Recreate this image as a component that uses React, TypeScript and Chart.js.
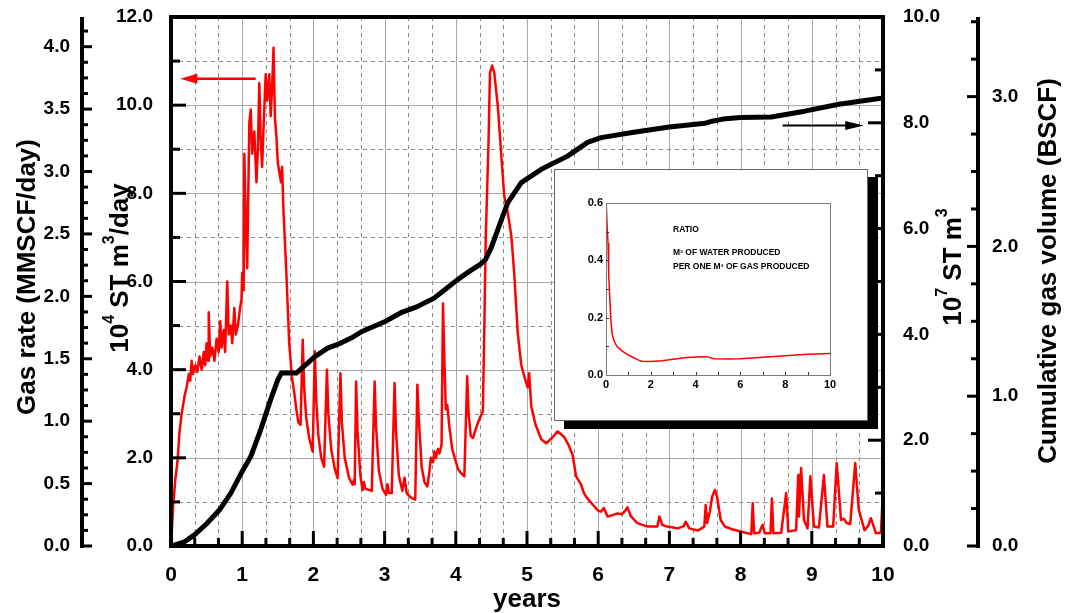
import React, { useEffect, useRef } from 'react';
import { Chart, registerables } from 'chart.js';
Chart.register(...registerables);

const FONT = "'Liberation Sans', Arial, Helvetica, sans-serif";
const K = 2.8316847; // 1 MMSCF = 2.83 x10^4 m3 ; 1 BSCF = 2.83 x10^7 m3

// ---------- main chart data ----------
const gasYears = [
  0, 0.03, 0.06, 0.09, 0.12, 0.15, 0.19, 0.22, 0.25, 0.27,
  0.29, 0.31, 0.34, 0.37, 0.40, 0.43, 0.46, 0.48, 0.50, 0.52,
  0.53, 0.55, 0.58, 0.61, 0.64, 0.67, 0.69, 0.71, 0.74, 0.76,
  0.79, 0.81, 0.84, 0.86, 0.89, 0.91, 0.94, 0.97, 0.99, 1.00,
  1.02, 1.03, 1.05, 1.07, 1.10, 1.12, 1.14, 1.17, 1.20, 1.22,
  1.24, 1.26, 1.28, 1.30, 1.33, 1.35, 1.38, 1.40, 1.42, 1.44,
  1.46, 1.48, 1.50, 1.53, 1.545, 1.56, 1.58, 1.62, 1.66, 1.70,
  1.73, 1.76, 1.79, 1.82, 1.85, 1.87, 1.90, 1.94, 1.99, 2.02,
  2.04, 2.07, 2.11, 2.15, 2.19, 2.21, 2.25, 2.30, 2.34, 2.38,
  2.40, 2.44, 2.50, 2.55, 2.57, 2.58, 2.60, 2.62, 2.66, 2.69,
  2.71, 2.73, 2.77, 2.82, 2.86, 2.88, 2.92, 2.97, 3.02, 3.04,
  3.06, 3.10, 3.14, 3.16, 3.20, 3.25, 3.28, 3.31, 3.37, 3.43,
  3.46, 3.48, 3.52, 3.56, 3.60, 3.63, 3.65, 3.68, 3.70, 3.72,
  3.75, 3.77, 3.80, 3.82, 3.84, 3.86, 3.88, 3.91, 3.95, 3.98,
  4.03, 4.07, 4.12, 4.16, 4.18, 4.21, 4.24, 4.28, 4.31, 4.35,
  4.38, 4.40, 4.42, 4.46, 4.48, 4.51, 4.54, 4.59, 4.63, 4.68,
  4.73, 4.78, 4.82, 4.87, 4.92, 4.97, 5.01, 5.03, 5.06, 5.12,
  5.20, 5.27, 5.35, 5.43, 5.52, 5.58, 5.64, 5.69, 5.72, 5.76,
  5.80, 5.83, 5.89, 5.95, 6.00, 6.04, 6.08, 6.13, 6.20, 6.27,
  6.33, 6.38, 6.41, 6.46, 6.55, 6.62, 6.70, 6.83, 6.86, 6.90,
  6.97, 7.05, 7.12, 7.20, 7.23, 7.28, 7.40, 7.49, 7.51, 7.53,
  7.57, 7.60, 7.64, 7.67, 7.72, 7.78, 7.88, 8.00, 8.15, 8.17,
  8.19, 8.26, 8.31, 8.34, 8.42, 8.44, 8.46, 8.57, 8.64, 8.67,
  8.78, 8.81, 8.82, 8.85, 8.89, 8.94, 8.98, 9.03, 9.10, 9.17,
  9.22, 9.30, 9.35, 9.41, 9.45, 9.49, 9.54, 9.61, 9.66, 9.74,
  9.79, 9.83, 9.90, 9.97, 9.99,
];
// gas rate, 10^4 ST m3/day
const gasRate = [
  0, 0.9, 1.5, 1.9, 2.6, 3.0, 3.4, 3.6, 3.9, 3.75,
  4.2, 3.9, 4.1, 3.95, 4.3, 4.0, 4.4, 4.1, 4.6, 4.2,
  5.3, 4.3, 4.5, 4.2, 4.7, 4.4, 5.1, 4.5, 4.9, 4.4,
  6.0, 4.8, 5.0, 4.6, 5.4, 4.8, 5.0, 5.4, 5.6, 6.2,
  5.8, 8.9, 7.4, 6.3, 9.6, 9.9, 8.9, 9.4, 8.25, 9.0,
  10.5, 9.2, 8.6, 9.5, 10.7, 10.1, 10.7, 9.75, 10.4, 11.3,
  9.7, 9.3, 8.7, 8.4, 8.25, 8.6, 7.6, 6.2, 4.6, 3.8,
  3.5, 3.1, 2.8, 2.75, 4.68, 3.6, 2.9, 2.45, 2.14, 4.42,
  3.3, 2.5, 2.0, 1.8, 4.0, 3.0, 2.2, 1.75, 1.54, 3.92,
  2.8, 2.0, 1.55, 1.39, 1.5, 1.4, 3.73, 2.6, 1.6, 1.27,
  1.45, 1.3, 1.28, 1.25, 3.73, 2.7, 1.7, 1.3, 1.16, 1.4,
  1.2, 1.2, 3.7, 2.6, 1.6, 1.25, 1.55, 1.2, 1.1, 1.05,
  3.66, 2.9, 1.8, 1.45, 1.35, 1.7, 2.0, 1.9, 2.15, 2.0,
  2.2, 2.1, 2.3, 5.5, 4.2, 3.1, 3.2, 2.7, 2.2, 2.03,
  1.75, 1.66, 1.58, 3.85, 3.0, 2.5, 2.45, 2.65, 2.79, 2.95,
  3.05, 4.9, 6.95, 9.2, 10.74, 10.9, 10.74, 9.98, 9.07, 7.94,
  7.56, 7.03, 6.2, 4.83, 4.1, 3.8, 3.6, 3.92, 3.17, 2.75,
  2.42, 2.33, 2.45, 2.6, 2.48, 2.3, 2.07, 1.58, 1.5, 1.39,
  1.2, 1.12, 1.0, 0.89, 0.8, 0.78, 0.86, 0.67, 0.7, 0.74,
  0.72, 0.8, 0.88, 0.67, 0.52, 0.48, 0.44, 0.44, 0.67, 0.48,
  0.44, 0.42, 0.4, 0.45, 0.55, 0.4, 0.35, 0.44, 0.93, 0.52,
  0.8, 1.12, 1.27, 1.12, 0.59, 0.44, 0.38, 0.33, 0.27, 0.97,
  0.29, 0.3, 0.48, 0.29, 0.29, 1.08, 0.29, 0.3, 1.2, 0.33,
  0.36, 1.61, 0.67, 1.77, 0.59, 0.4, 1.58, 0.44, 0.42, 1.61,
  0.44, 0.44, 1.88, 0.59, 0.62, 0.52, 0.5, 1.88, 0.82, 0.36,
  0.45, 0.63, 0.29, 0.3, 0.93,
];

const cumYears = [
  0, 0.19, 0.33, 0.5, 0.68, 0.84, 1.0, 1.12, 1.26, 1.4,
  1.5, 1.55, 1.76, 1.87, 2.02, 2.2, 2.34, 2.53, 2.69, 3.0,
  3.23, 3.45, 3.7, 3.85, 4.03, 4.2, 4.35, 4.42, 4.5, 4.59,
  4.73, 4.92, 5.2, 5.57, 5.85, 6.04, 6.5, 7.0, 7.5, 7.6,
  7.75, 8.0, 8.43, 8.9, 9.38, 10.0,
];
// cumulative gas, 10^7 ST m3
const cumVolume = [
  0, 0.08, 0.21, 0.42, 0.68, 1.0, 1.41, 1.69, 2.2, 2.77,
  3.14, 3.27, 3.27, 3.4, 3.58, 3.74, 3.81, 3.93, 4.06, 4.24,
  4.41, 4.52, 4.69, 4.85, 5.04, 5.2, 5.33, 5.42, 5.65, 5.98,
  6.49, 6.87, 7.12, 7.37, 7.63, 7.72, 7.82, 7.92, 7.99, 8.03,
  8.07, 8.1, 8.11, 8.22, 8.35, 8.47,
];

const yearTicks = [0, 1, 2, 3, 4, 5, 6, 7, 8, 9, 10];
const rateTicks = [0, 2, 4, 6, 8, 10, 12];
const mmscfTicks = [0, 0.5, 1, 1.5, 2, 2.5, 3, 3.5, 4];
const cumTicks = [0, 2, 4, 6, 8, 10];
const bscfTicks = [0, 1, 2, 3];

// ---------- inset data ----------
const ratioYears = [0, 0.01, 0.05, 0.09, 0.12, 0.16, 0.21, 0.27, 0.35, 0.49, 0.7, 0.93, 1.2, 1.45, 1.6, 2.0, 2.5, 3.0, 3.5, 4.0, 4.5, 4.8, 5.5, 6.0, 7.0, 8.0, 9.0, 10.0];
const ratioValues = [0.1, 0.6, 0.52, 0.46, 0.35, 0.285, 0.2, 0.145, 0.12, 0.099, 0.085, 0.073, 0.062, 0.052, 0.048, 0.047, 0.05, 0.055, 0.06, 0.063, 0.064, 0.057, 0.056, 0.057, 0.062, 0.067, 0.072, 0.075];
const insetXTicks = [0, 2, 4, 6, 8, 10];
const insetYTicks = [0, 0.2, 0.4, 0.6];
const insetText = ['RATIO', 'M³ OF WATER PRODUCED', 'PER ONE M³ OF GAS PRODUCED'];

type Part = { t: string; sup?: boolean };

function drawRich(ctx: CanvasRenderingContext2D, parts: Part[], cx: number, cy: number, size: number) {
  ctx.save();
  ctx.translate(cx, cy);
  ctx.rotate(-Math.PI / 2);
  const main = `bold ${size}px ${FONT}`;
  const sup = `bold ${Math.round(size * 0.6)}px ${FONT}`;
  let total = 0;
  for (const p of parts) { ctx.font = p.sup ? sup : main; total += ctx.measureText(p.t).width; }
  let x = -total / 2;
  ctx.textBaseline = 'middle';
  ctx.textAlign = 'left';
  ctx.fillStyle = '#000';
  for (const p of parts) {
    ctx.font = p.sup ? sup : main;
    ctx.fillText(p.t, x, p.sup ? -size * 0.42 : 0);
    x += ctx.measureText(p.t).width;
  }
  ctx.restore();
}

function line(ctx: CanvasRenderingContext2D, x1: number, y1: number, x2: number, y2: number) {
  ctx.beginPath(); ctx.moveTo(x1, y1); ctx.lineTo(x2, y2); ctx.stroke();
}

const mainDecor = {
  id: 'mainDecor',
  beforeDatasetsDraw(chart: any) {
    const { ctx, chartArea: a, scales } = chart;
    const x = scales.x, y = scales.yRate;
    ctx.save();
    ctx.lineWidth = 1;
    for (let k = 1; k < 30; k++) {
      const px = Math.round(x.getPixelForValue(k / 3)) + 0.5;
      if (k % 3 === 0) { ctx.strokeStyle = '#a8a8a8'; ctx.setLineDash([]); }
      else { ctx.strokeStyle = '#8a8a8a'; ctx.setLineDash([4, 4]); }
      line(ctx, px, a.top, px, a.bottom);
    }
    for (let v = 1; v < 12; v++) {
      const py = Math.round(y.getPixelForValue(v)) + 0.5;
      if (v % 2 === 0) { ctx.strokeStyle = '#a8a8a8'; ctx.setLineDash([]); }
      else { ctx.strokeStyle = '#8a8a8a'; ctx.setLineDash([4, 4]); }
      line(ctx, a.left, py, a.right, py);
    }
    ctx.restore();
  },
  afterDraw(chart: any) {
    const { ctx, chartArea: a, scales } = chart;
    const x = scales.x, yR = scales.yRate, yG = scales.yGas, yC = scales.yCum, yB = scales.yBscf;
    ctx.save();
    ctx.setLineDash([]);
    ctx.strokeStyle = '#000';
    ctx.lineCap = 'butt';
    // frame + outer axis lines
    ctx.lineWidth = 4;
    ctx.strokeRect(a.left, a.top, a.right - a.left, a.bottom - a.top);
    const gx = yG.right, bx = yB.left;
    line(ctx, gx, a.top, gx, a.bottom + 2);
    line(ctx, bx, a.top, bx, a.bottom + 2);
    // ticks
    ctx.lineWidth = 3;
    for (let k = 1; k < 30; k++) {
      const px = x.getPixelForValue(k / 3);
      line(ctx, px, a.bottom, px, a.bottom - (k % 3 === 0 ? 15 : 8));
    }
    for (let v = 1; v < 12; v++) {
      const py = yR.getPixelForValue(v);
      line(ctx, a.left, py, a.left + (v % 2 === 0 ? 15 : 9), py);
    }
    for (let v = 1; v < 10; v++) {
      const py = yC.getPixelForValue(v);
      line(ctx, a.right, py, a.right - (v % 2 === 0 ? 15 : 8), py);
    }
    for (let k = 0; k * 0.125 < yG.max; k++) {
      const py = yG.getPixelForValue(k * 0.125);
      line(ctx, gx, py, gx + (k % 4 === 0 ? 10 : 6), py);
    }
    for (let k = 0; k * 0.25 < yB.max; k++) {
      const py = yB.getPixelForValue(k * 0.25);
      line(ctx, bx, py, bx - (k % 4 === 0 ? 11 : 7), py);
    }
    // axis titles
    drawRich(ctx, [{ t: 'Gas rate (MMSCF/day)' }], 28, 277, 26);
    drawRich(ctx, [{ t: '10' }, { t: '4', sup: true }, { t: ' ST m' }, { t: '3', sup: true }, { t: '/day' }], 121, 268, 26);
    drawRich(ctx, [{ t: '10' }, { t: '7', sup: true }, { t: ' ST m' }, { t: '3', sup: true }], 954, 267, 26);
    drawRich(ctx, [{ t: 'Cumulative gas volume (BSCF)' }], 1049, 271, 26);
    // arrows
    const ay = yR.getPixelForValue(10.6);
    ctx.strokeStyle = '#ff0000'; ctx.fillStyle = '#ff0000'; ctx.lineWidth = 2.5;
    line(ctx, x.getPixelForValue(1.19), ay, x.getPixelForValue(0.33), ay);
    ctx.beginPath();
    ctx.moveTo(x.getPixelForValue(0.13), ay);
    ctx.lineTo(x.getPixelForValue(0.37), ay - 5);
    ctx.lineTo(x.getPixelForValue(0.37), ay + 5);
    ctx.closePath(); ctx.fill();
    const by = yC.getPixelForValue(7.95);
    ctx.strokeStyle = '#000'; ctx.fillStyle = '#000'; ctx.lineWidth = 2;
    line(ctx, x.getPixelForValue(8.59), by, x.getPixelForValue(9.5), by);
    ctx.beginPath();
    ctx.moveTo(x.getPixelForValue(9.73), by);
    ctx.lineTo(x.getPixelForValue(9.47), by - 4.5);
    ctx.lineTo(x.getPixelForValue(9.47), by + 4.5);
    ctx.closePath(); ctx.fill();
    ctx.restore();
  },
};

const insetDecor = {
  id: 'insetDecor',
  afterDraw(chart: any) {
    const { ctx, chartArea: a, scales } = chart;
    ctx.save();
    ctx.strokeStyle = '#7a7a7a';
    ctx.lineWidth = 1;
    ctx.strokeRect(Math.round(a.left) + 0.5, Math.round(a.top) + 0.5, Math.round(a.right - a.left), Math.round(a.bottom - a.top));
    ctx.strokeStyle = '#333';
    for (let k = 1; k < 10; k++) {
      const px = Math.round(scales.x.getPixelForValue(k)) + 0.5;
      line(ctx, px, a.bottom, px, a.bottom - 3);
    }
    for (let k = 1; k < 6; k++) {
      const py = Math.round(scales.y.getPixelForValue(k * 0.1)) + 0.5;
      line(ctx, a.left, py, a.left + 3, py);
    }
    ctx.fillStyle = '#000';
    ctx.font = `bold 8.5px ${FONT}`;
    ctx.textAlign = 'left';
    ctx.textBaseline = 'middle';
    ctx.fillText(insetText[0], 118, 60);
    ctx.fillText(insetText[1], 118, 83);
    ctx.fillText(insetText[2], 118, 97);
    ctx.restore();
  },
};

const tickFont = { family: FONT, size: 19, weight: 'bold' as const };

function MainChart() {
  const ref = useRef<HTMLCanvasElement>(null);
  useEffect(() => {
    const setTicks = (vals: number[]) => (s: any) => { s.ticks = vals.map((v) => ({ value: v })); };
    // label offset comes from the (hidden) tick length so it does not inflate the top padding
    const yAxis = (pos: 'left' | 'right', weight: number, max: number, vals: number[], width: number, pad: number) => ({
      type: 'linear' as const,
      position: pos,
      weight,
      min: 0,
      max,
      afterBuildTicks: setTicks(vals),
      afterFit: (s: any) => { s.width = width; },
      grid: { display: false, drawTicks: true, tickLength: pad },
      border: { display: false },
      ticks: { color: '#000', font: tickFont, padding: 0, autoSkip: false, callback: (v: any) => Number(v).toFixed(1) },
    });
    const chart = new Chart(ref.current as HTMLCanvasElement, {
      type: 'line',
      data: {
        datasets: [
          {
            data: cumYears.map((t, i) => ({ x: t, y: cumVolume[i] })),
            xAxisID: 'x', yAxisID: 'yCum',
            borderColor: '#000', borderWidth: 5, pointRadius: 0, tension: 0,
            borderJoinStyle: 'round', borderCapStyle: 'round',
          },
          {
            data: gasYears.map((t, i) => ({ x: t, y: gasRate[i] })),
            xAxisID: 'x', yAxisID: 'yRate',
            borderColor: '#ff0000', borderWidth: 2.5, pointRadius: 0, tension: 0,
            borderJoinStyle: 'round',
          },
        ],
      },
      options: {
        responsive: false,
        animation: false,
        events: [],
        layout: { padding: { top: 17, left: 0, right: 0, bottom: 0 } },
        plugins: { legend: { display: false }, tooltip: { enabled: false } },
        scales: {
          x: {
            type: 'linear', position: 'bottom', min: 0, max: 10,
            afterBuildTicks: setTicks(yearTicks),
            afterFit: (s: any) => { s.height = 67; },
            grid: { display: false, drawTicks: true, tickLength: 17 },
            border: { display: false },
            ticks: { color: '#000', font: { family: FONT, size: 21, weight: 'bold' }, padding: 0, maxRotation: 0, autoSkip: false, callback: (v: any) => String(v) },
            title: { display: true, text: 'years', color: '#000', font: { family: FONT, size: 26, weight: 'bold', lineHeight: 1 }, padding: 0 },
          },
          yRate: yAxis('left', 0, 12, rateTicks, 89, 18),
          yGas: yAxis('left', 1, 12 / K, mmscfTicks, 82, 12),
          yCum: yAxis('right', 0, 10, cumTicks, 95, 20),
          yBscf: yAxis('right', 1, 10 / K, bscfTicks, 99, 14),
        } as any,
      },
      plugins: [mainDecor],
    } as any);
    return () => chart.destroy();
  }, []);
  return <canvas ref={ref} width={1077} height={613} style={{ position: 'absolute', left: 0, top: 0, width: 1077, height: 613 }} />;
}

function InsetChart() {
  const ref = useRef<HTMLCanvasElement>(null);
  useEffect(() => {
    const setTicks = (vals: number[]) => (s: any) => { s.ticks = vals.map((v) => ({ value: v })); };
    const f = { family: FONT, size: 11, weight: 'bold' as const };
    const chart = new Chart(ref.current as HTMLCanvasElement, {
      type: 'line',
      data: {
        datasets: [{
          data: ratioYears.map((t, i) => ({ x: t, y: ratioValues[i] })),
          borderColor: '#ff0000', borderWidth: 1.5, pointRadius: 0, tension: 0,
        }],
      },
      options: {
        responsive: false,
        animation: false,
        events: [],
        layout: { padding: { top: 33, right: 37, left: 0, bottom: 0 } },
        plugins: { legend: { display: false }, tooltip: { enabled: false } },
        scales: {
          x: {
            type: 'linear', min: 0, max: 10,
            afterBuildTicks: setTicks(insetXTicks),
            afterFit: (s: any) => { s.height = 45; },
            grid: { display: false, drawTicks: false },
            border: { display: false },
            ticks: { color: '#000', font: f, padding: 3, maxRotation: 0, autoSkip: false, callback: (v: any) => String(v) },
          },
          y: {
            type: 'linear', min: 0, max: 0.6,
            afterBuildTicks: setTicks(insetYTicks),
            afterFit: (s: any) => { s.width = 51; },
            grid: { display: false, drawTicks: false },
            border: { display: false },
            ticks: { color: '#000', font: f, padding: 3, autoSkip: false, callback: (v: any) => Number(v).toFixed(1) },
          },
        },
      },
      plugins: [insetDecor],
    } as any);
    return () => chart.destroy();
  }, []);
  return (
    <div style={{ position: 'absolute', left: 554, top: 169, width: 314, height: 252, boxSizing: 'border-box', border: '1px solid #666', background: '#fff', boxShadow: '10px 8px 0 0 #000' }}>
      <canvas ref={ref} width={312} height={250} style={{ display: 'block', width: 312, height: 250 }} />
    </div>
  );
}

export default function App() {
  return (
    <div style={{ position: 'fixed', left: 0, top: 0, width: 1077, height: 613, background: '#fff', overflow: 'hidden' }}>
      <MainChart />
      <InsetChart />
    </div>
  );
}
